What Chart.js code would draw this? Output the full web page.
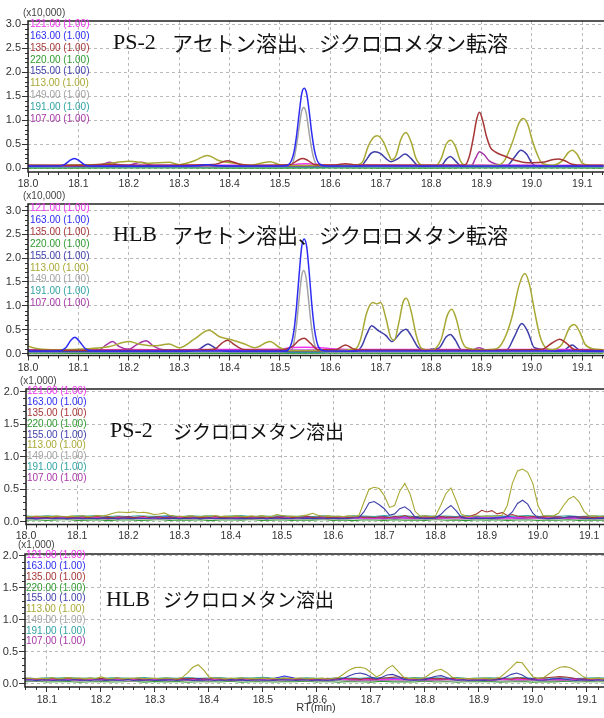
<!DOCTYPE html>
<html>
<head>
<meta charset="utf-8">
<script src="https://cdn.jsdelivr.net/npm/chart.js@4.4.1/dist/chart.umd.min.js"></script>
<style>
  html, body { margin: 0; padding: 0; background: #fff; }
  #wrap { position: relative; width: 604px; height: 718px; overflow: hidden; background: #fff; }
  #wrap canvas { position: absolute; left: 0; }
</style>
</head>
<body>
<div id="wrap">
  <canvas id="c1" width="604" height="192" style="top:0px"></canvas>
  <canvas id="c2" width="604" height="188" style="top:186px"></canvas>
  <canvas id="c3" width="604" height="174" style="top:370px"></canvas>
  <canvas id="c4" width="604" height="182" style="top:536px"></canvas>
</div>
<script>
// ---------- labels ----------
const ions = ['121.00', '163.00', '135.00', '220.00', '155.00', '113.00', '149.00', '191.00', '107.00'];
const ionWeight = '(1.00)';
const xTicks = [18.0, 18.1, 18.2, 18.3, 18.4, 18.5, 18.6, 18.7, 18.8, 18.9, 19.0, 19.1];
const yTicksAcetone = [0, 0.5, 1.0, 1.5, 2.0, 2.5, 3.0];
const yTicksDcm = [0, 0.5, 1.0, 1.5, 2.0];
const titleLatin = ['PS-2', 'HLB', 'PS-2', 'HLB'];
const titleJa = ['アセトン溶出、ジクロロメタン転溶', 'アセトン溶出、ジクロロメタン転溶', 'ジクロロメタン溶出', 'ジクロロメタン溶出'];
const factorLabels = ['(x10,000)', '(x10,000)', '(x1,000)', '(x1,000)'];
const axisTitle = 'RT(min)';

// ---------- panel 1 : PS-2, acetone elution (raw intensity, [RT, counts]) ----------
const p1_121 = [[18.00,550],[18.05,520],[18.10,560],[18.15,600],[18.20,540],[18.25,580],[18.30,530],[18.35,600],[18.40,570],[18.45,540],[18.50,600],[18.53,750],[18.55,900],[18.57,780],[18.60,620],[18.65,560],[18.70,600],[18.75,540],[18.80,590],[18.85,560],[18.90,620],[18.95,570],[19.00,600],[19.05,550],[19.10,580],[19.142,560]];
const p1_163 = [[18.00,420],[18.06,430],[18.072,700],[18.082,1500],[18.092,2000],[18.102,1500],[18.112,700],[18.125,430],[18.20,400],[18.30,430],[18.34,520],[18.355,700],[18.37,520],[18.40,420],[18.50,430],[18.513,500],[18.518,800],[18.523,1600],[18.528,3400],[18.533,6800],[18.538,11300],[18.543,15400],[18.548,16600],[18.553,15500],[18.558,11800],[18.563,7300],[18.568,3900],[18.573,1800],[18.578,900],[18.588,480],[18.60,420],[18.70,440],[18.80,410],[18.90,430],[19.00,420],[19.142,420]];
const p1_135 = [[18.00,600],[18.12,600],[18.15,800],[18.17,700],[18.20,600],[18.37,750],[18.396,1500],[18.42,800],[18.45,600],[18.52,700],[18.535,1600],[18.545,2000],[18.555,1600],[18.57,700],[18.61,650],[18.63,900],[18.65,650],[18.86,600],[18.868,700],[18.876,2500],[18.884,6500],[18.89,10000],[18.896,11600],[18.902,10000],[18.91,6500],[18.918,4200],[18.928,3300],[18.94,2700],[18.955,2100],[18.97,1500],[18.99,1100],[19.02,1200],[19.04,1700],[19.052,1900],[19.065,1500],[19.08,800],[19.10,600],[19.142,600]];
const p1_220 = [[18.00,20],[18.20,40],[18.40,20],[18.60,30],[18.80,20],[19.00,40],[19.142,20]];
const p1_155 = [[18.00,350],[18.30,350],[18.34,450],[18.356,650],[18.37,450],[18.40,350],[18.66,400],[18.67,1500],[18.68,3000],[18.688,3400],[18.70,3000],[18.71,2000],[18.72,1300],[18.735,2000],[18.748,2900],[18.76,2000],[18.772,600],[18.78,350],[18.82,500],[18.83,1800],[18.838,2400],[18.848,1500],[18.86,400],[18.95,500],[18.965,2200],[18.978,3700],[18.99,2800],[19.00,1000],[19.01,400],[19.142,350]];
const p1_113 = [[18.00,600],[18.05,550],[18.10,650],[18.15,800],[18.20,1400],[18.24,1000],[18.28,1200],[18.30,700],[18.33,1500],[18.356,2600],[18.38,1500],[18.41,1000],[18.44,600],[18.48,1300],[18.50,700],[18.53,500],[18.60,500],[18.65,600],[18.665,1500],[18.675,4500],[18.685,6300],[18.693,6700],[18.705,5500],[18.715,3000],[18.722,1700],[18.73,2500],[18.74,6000],[18.75,7400],[18.76,5500],[18.77,2000],[18.78,700],[18.81,500],[18.82,2000],[18.83,5000],[18.839,5800],[18.848,4500],[18.858,1500],[18.87,500],[18.93,600],[18.945,1500],[18.96,5000],[18.975,9500],[18.983,10300],[18.992,9000],[19.00,6000],[19.01,3000],[19.02,1000],[19.04,600],[19.06,1500],[19.072,3200],[19.08,3700],[19.09,2800],[19.10,1000],[19.12,500],[19.142,500]];
const p1_149 = [[18.00,300],[18.50,300],[18.523,600],[18.528,2000],[18.533,4800],[18.538,8500],[18.543,11800],[18.547,12600],[18.552,11500],[18.557,8000],[18.562,4500],[18.567,2000],[18.572,800],[18.58,400],[18.60,300],[19.142,300]];
const p1_191 = [[18.00,180],[18.30,220],[18.60,190],[18.90,210],[19.142,200]];
const p1_107 = [[18.00,450],[18.14,450],[18.152,900],[18.162,1200],[18.175,800],[18.20,600],[18.215,1000],[18.225,1200],[18.24,700],[18.26,450],[18.88,500],[18.888,2000],[18.896,3400],[18.905,2800],[18.915,1500],[18.93,800],[18.95,500],[19.142,450]];

// ---------- panel 2 : HLB, acetone elution ----------
const p2_121 = [[18.00,800],[18.10,760],[18.20,820],[18.30,780],[18.40,850],[18.50,900],[18.52,1200],[18.55,1300],[18.58,1200],[18.62,900],[18.70,820],[18.80,860],[18.90,800],[19.00,840],[19.142,800]];
const p2_163 = [[18.00,500],[18.06,520],[18.075,1200],[18.085,2800],[18.093,3400],[18.103,2400],[18.115,900],[18.13,520],[18.30,500],[18.50,520],[18.513,600],[18.518,1000],[18.523,2200],[18.528,5000],[18.533,10000],[18.538,16500],[18.543,22300],[18.548,24000],[18.553,22400],[18.558,17000],[18.563,10500],[18.568,5500],[18.573,2500],[18.578,1100],[18.588,560],[18.60,500],[18.80,520],[19.00,500],[19.142,500]];
const p2_135 = [[18.00,700],[18.30,700],[18.37,900],[18.385,2200],[18.396,2800],[18.41,1800],[18.43,800],[18.50,700],[18.525,1500],[18.538,2800],[18.548,3200],[18.56,2200],[18.575,800],[18.61,800],[18.63,1800],[18.65,800],[18.70,700],[18.90,700],[19.02,900],[19.04,2200],[19.055,3000],[19.07,2000],[19.085,800],[19.142,700]];
const p2_220 = [[18.00,80],[18.30,60],[18.60,90],[18.90,60],[19.142,80]];
const p2_155 = [[18.00,400],[18.30,420],[18.34,900],[18.357,2000],[18.375,900],[18.41,420],[18.65,450],[18.662,1500],[18.672,4000],[18.682,5800],[18.695,4800],[18.71,3800],[18.722,2500],[18.74,4500],[18.75,5100],[18.76,3800],[18.775,1200],[18.79,600],[18.80,900],[18.815,1100],[18.83,3500],[18.838,4000],[18.848,2800],[18.86,800],[18.95,800],[18.965,3500],[18.98,6300],[18.992,4500],[19.005,1200],[19.06,500],[19.08,1800],[19.09,1000],[19.10,450],[19.142,420]];
const p2_113 = [[18.00,1500],[18.02,1000],[18.06,800],[18.12,1000],[18.16,1400],[18.20,2500],[18.22,2000],[18.25,1600],[18.28,2000],[18.30,1200],[18.33,3000],[18.359,4900],[18.38,3500],[18.40,3000],[18.43,2000],[18.45,1200],[18.48,2500],[18.50,1200],[18.52,600],[18.60,600],[18.65,1000],[18.66,3000],[18.672,8500],[18.684,10700],[18.692,10400],[18.70,10700],[18.71,7500],[18.72,3300],[18.727,2800],[18.735,6000],[18.745,11000],[18.751,11600],[18.76,9000],[18.77,4000],[18.78,1200],[18.80,700],[18.82,3000],[18.832,8000],[18.841,9300],[18.85,7200],[18.86,3000],[18.87,1200],[18.90,800],[18.93,1000],[18.945,3000],[18.96,7500],[18.975,14500],[18.986,16800],[18.995,14500],[19.005,9000],[19.015,4000],[19.025,1500],[19.04,800],[19.06,2000],[19.075,5500],[19.084,6100],[19.095,4500],[19.105,2000],[19.12,1000],[19.142,800]];
const p2_149 = [[18.00,300],[18.50,300],[18.523,700],[18.528,2500],[18.533,6200],[18.538,11500],[18.543,16200],[18.547,17400],[18.552,15800],[18.557,11000],[18.562,6000],[18.567,2600],[18.572,1000],[18.58,450],[18.60,300],[19.142,300]];
const p2_191 = [[18.00,250],[18.50,270],[19.142,250]];
const p2_107 = [[18.00,700],[18.14,700],[18.155,1800],[18.168,2500],[18.18,1500],[18.20,900],[18.215,1800],[18.234,2700],[18.25,1500],[18.27,800],[18.40,700],[18.88,750],[18.895,1200],[18.91,750],[19.142,700]];

// ---------- panels 3 & 4 : dichloromethane elution, sampled traces ----------
const fineTimes = [
  18.00,18.01,18.02,18.03,18.04,18.05,18.06,18.07,18.08,18.09,
  18.10,18.11,18.12,18.13,18.14,18.15,18.16,18.17,18.18,18.19,
  18.20,18.21,18.22,18.23,18.24,18.25,18.26,18.27,18.28,18.29,
  18.30,18.31,18.32,18.33,18.34,18.35,18.36,18.37,18.38,18.39,
  18.40,18.41,18.42,18.43,18.44,18.45,18.46,18.47,18.48,18.49,
  18.50,18.51,18.52,18.53,18.54,18.55,18.56,18.57,18.58,18.59,
  18.60,18.61,18.62,18.63,18.64,18.65,18.66,18.67,18.68,18.69,
  18.70,18.71,18.72,18.73,18.74,18.75,18.76,18.77,18.78,18.79,
  18.80,18.81,18.82,18.83,18.84,18.85,18.86,18.87,18.88,18.89,
  18.90,18.91,18.92,18.93,18.94,18.95,18.96,18.97,18.98,18.99,
  19.00,19.01,19.02,19.03,19.04,19.05,19.06,19.07,19.08,19.09,
  19.10,19.11,19.12,19.13,19.14];
const coarseTimes = [
  18.00,18.02,18.04,18.06,18.08,18.10,18.12,18.14,18.16,18.18,
  18.20,18.22,18.24,18.26,18.28,18.30,18.32,18.34,18.36,18.38,
  18.40,18.42,18.44,18.46,18.48,18.50,18.52,18.54,18.56,18.58,
  18.60,18.62,18.64,18.66,18.68,18.70,18.72,18.74,18.76,18.78,
  18.80,18.82,18.84,18.86,18.88,18.90,18.92,18.94,18.96,18.98,
  19.00,19.02,19.04,19.06,19.08,19.10,19.12,19.14];

// panel 3 : PS-2
const p3_121 = [58,64,55,61,66,57,60,63,54,62, 59,65,56,61,58,63,57,60,66,55, 62,59,64,57,61,56,63,60,58,65, 57,62,59,61,55,64,58,62,60,57, 63,56,61,65,58,60,54,62,59,64, 57,61,60,56,63,58,62,59];
const p3_163 = [70,58,72,63,55,68,74,60,66,57, 71,62,54,69,75,61,58,70,64,73, 59,67,72,56,63,76,60,68,55,71, 64,58,73,66,60,74,57,69,62,55, 72,63,68,58,75,61,66,70,59,64, 73,57,68,62,70,60,66,63];
const p3_220 = [22,30,18,27,33,20,25,29,16,26, 31,21,24,34,19,28,23,30,17,26, 29,22,33,18,25,31,20,27,24,35, 21,28,16,30,26,19,32,23,27,20, 34,22,28,17,29,25,31,19,26,30, 18,27,23,32,20,28,24,26];
const p3_149 = [42,36,45,38,33,44,40,47,35,41, 37,46,39,34,43,48,36,41,45,38, 33,44,40,37,46,35,42,39,47,36, 41,34,45,38,43,36,48,40,35,44, 39,46,37,42,34,45,40,36,43,38, 47,35,41,44,37,42,39,40];
const p3_191 = [88,80,92,84,78,90,86,95,81,87, 79,91,85,82,94,77,89,83,92,80, 86,93,78,88,84,96,81,87,79,90, 83,77,91,86,80,94,85,89,78,92, 84,88,81,95,79,87,90,82,86,93, 80,89,84,91,78,86,88,83];
const p3_107 = [52,58,49,56,61,50,55,59,47,57, 60,51,55,63,48,57,53,59,50,56, 54,61,47,58,52,62,49,56,60,51, 57,50,63,53,58,48,60,55,52,59, 49,56,61,51,58,54,47,60,55,53, 62,50,57,54,59,49,56,53];
const p3_135 = [72,66,78,69,63,75,71,80,65,73, 68,76,62,74,79,67,71,64,77,70, 75,63,72,81,66,70,77,61,73,68, 79,65,71,76,62,74,69,80,64,72, 67,77,70,63,78,72,66,75,61,74, 71,79,64,73,68,82,66,70,76,63, 74,69,78,65,72,80,67,73,62,76, 70,64,79,72,95,68,74,66,77,71, 65,78,70,73,64,80,72,90,120,175, 150,170,120,140,95,110,85,78,72,80, 68,75,82,70,77,64,73,79,66,74, 71,65,78,69,73];
const p3_113 = [82,76,88,79,85,74,90,81,77,86, 80,92,78,84,95,88,105,130,150,145, 140,152,138,146,132,110,118,135,100,88, 84,79,91,83,77,88,82,95,80,86, 78,90,84,76,89,81,93,79,85,110, 95,82,88,79,91,105,130,98,84,90, 81,87,78,92,84,90,300,500,530,510, 400,220,250,470,590,430,160,85,92,80, 90,250,430,520,330,120,85,79,91,83, 88,80,92,100,250,590,780,810,760,590, 250,95,84,90,130,250,350,390,310,160, 85,91,80,88,83];
const p3_155 = [48,55,44,52,58,46,51,56,43,53, 57,45,50,54,47,59,49,52,44,56, 51,46,58,49,53,60,45,52,48,55, 47,54,50,57,44,52,59,46,53,49, 56,45,51,48,58,50,54,43,52,57, 49,53,46,60,51,55,47,52,58,45, 54,48,53,50,57,62,150,290,310,260, 200,100,120,200,230,170,70,55,48,52, 56,110,190,250,170,70,53,47,55,50, 52,48,57,60,80,150,280,330,270,130, 60,52,47,55,50,62,75,80,58,49, 53,46,55,50,52];

// panel 4 : HLB
const p4_121 = [68,74,65,71,76,67,70,73,64,72, 69,75,66,71,68,73,67,70,76,65, 72,69,74,67,71,66,73,70,68,75, 67,72,69,71,65,74,68,72,70,67, 73,66,71,75,68,70,64,72,69,74, 67,71,70,66,73,68,72,69];
const p4_163 = [80,68,82,73,65,78,84,70,76,67, 81,72,64,79,85,71,68,80,74,83, 69,77,82,66,73,86,85,125,90,81, 74,68,83,76,70,84,67,79,72,65, 82,73,78,68,85,71,76,80,69,74, 83,67,78,72,80,70,76,73];
const p4_220 = [32,40,28,37,43,30,35,39,26,36, 41,31,34,44,29,38,33,40,27,36, 39,32,43,28,35,41,30,37,34,45, 31,38,26,40,36,29,42,33,37,30, 44,32,38,27,39,35,41,29,36,40, 28,37,33,42,30,38,34,36];
const p4_149 = [52,46,55,48,43,54,50,57,45,51, 47,56,49,44,53,58,46,51,55,48, 43,54,50,47,56,45,52,49,57,46, 51,44,55,48,53,46,58,50,45,54, 49,56,47,52,44,55,50,46,53,48, 57,45,51,54,47,52,49,50];
const p4_191 = [95,87,99,91,85,97,93,102,88,94, 86,98,92,89,101,84,96,90,99,87, 93,100,85,95,91,103,88,94,86,97, 90,84,98,93,87,101,92,96,85,99, 91,95,88,102,86,94,97,89,93,100, 87,96,91,98,85,93,95,90];
const p4_107 = [62,68,59,66,71,60,65,69,57,67, 70,61,65,73,58,67,63,69,60,66, 64,71,57,68,62,72,59,66,70,61, 67,60,73,63,68,58,70,65,62,69, 59,66,71,61,68,64,57,70,65,63, 72,60,67,64,69,59,66,63];
const p4_135 = [82,76,88,79,73,85,81,90,75,83, 78,86,72,84,89,77,81,74,87,80, 85,73,82,91,76,80,87,71,83,78, 89,75,81,86,72,84,79,90,74,82, 77,87,80,73,88,82,76,85,71,84, 81,89,74,83,78,92,76,80,86,73, 84,79,88,75,82,90,77,83,72,86, 80,74,89,95,105,112,98,84,77,81, 75,88,80,83,74,90,82,77,85,79, 86,78,84,73,89,81,76,95,88,80, 78,85,92,100,108,115,110,96,82,77, 84,75,88,79,83];
const p4_113 = [86,80,92,83,89,78,94,85,81,90, 84,96,82,88,99,87,93,80,91,85, 110,88,84,93,79,90,86,95,82,89, 87,81,94,85,79,100,170,260,300,220, 110,86,93,80,90,84,97,82,88,83, 92,79,89,84,95,81,87,93,80,90, 85,91,78,89,100,160,220,255,260,240, 180,110,150,240,290,200,110,85,92,81, 100,160,210,230,180,110,85,90,79,88, 84,92,80,89,110,180,260,340,330,220, 110,88,100,160,220,260,270,250,200,130, 90,84,92,80,87];
const p4_155 = [58,65,54,62,68,56,61,66,53,63, 67,55,60,64,57,69,59,62,54,66, 61,56,68,59,63,70,55,62,58,65, 57,64,60,67,54,62,69,56,63,59, 66,55,61,58,68,60,64,53,62,67, 59,63,56,70,61,65,57,62,68,55, 64,58,63,60,67,90,130,160,170,150, 110,80,105,140,150,120,75,62,58,64, 66,95,120,130,100,70,59,65,57,63, 60,56,67,62,75,110,150,170,140,90, 66,58,63,70,80,85,75,62,57,64, 61,55,66,59,62];

// ---------- styles ----------
const ionColors = {
  '121.00': '#f035f0',
  '163.00': '#2c2cf4',
  '135.00': '#a63636',
  '220.00': '#2f9a2f',
  '155.00': '#3e3eaa',
  '113.00': '#a8a834',
  '149.00': '#a3a3a3',
  '191.00': '#32a3a3',
  '107.00': '#a636a6'
};
const gridColor = '#b9b9b9';
const axisColor = '#222';
const tickTextColor = '#333';

const fromPairs = (pairs, f) => pairs.map(([t, v]) => ({ x: t, y: v / f }));
const fromGrid = (times, vals, f) => vals.map((v, i) => ({ x: times[i], y: v / f })).filter(p => p.x !== undefined);

// series listed top-most first (Chart.js paints dataset 0 last)
const panels = [
  {
    id: 'c1', padTop: 21, xAxisH: 20, yAxisW: 28, xLabelPad: 1,
    xMin: 18.0, xMax: 19.143, yMin: -0.083, yMax: 3.0625, yTicks: yTicksAcetone,
    smooth: true, lineWidth: 1.5,
    series: [['163.00', fromPairs(p1_163, 1e4)], ['135.00', fromPairs(p1_135, 1e4)], ['113.00', fromPairs(p1_113, 1e4)],
             ['107.00', fromPairs(p1_107, 1e4)], ['121.00', fromPairs(p1_121, 1e4)], ['155.00', fromPairs(p1_155, 1e4)],
             ['149.00', fromPairs(p1_149, 1e4)], ['191.00', fromPairs(p1_191, 1e4)], ['220.00', fromPairs(p1_220, 1e4)]],
    factorPos: [23, 13], legend: [30, 24.3, 11.85],
    title: { latinX: 113, jaX: 172, y: 43, latinSize: 22, jaSize: 21 }
  },
  {
    id: 'c2', padTop: 18, xAxisH: 18.5, yAxisW: 28, xLabelPad: 1,
    xMin: 18.0, xMax: 19.143, yMin: -0.042, yMax: 3.136, yTicks: yTicksAcetone,
    smooth: true, lineWidth: 1.5,
    series: [['163.00', fromPairs(p2_163, 1e4)], ['135.00', fromPairs(p2_135, 1e4)], ['113.00', fromPairs(p2_113, 1e4)],
             ['107.00', fromPairs(p2_107, 1e4)], ['121.00', fromPairs(p2_121, 1e4)], ['155.00', fromPairs(p2_155, 1e4)],
             ['149.00', fromPairs(p2_149, 1e4)], ['191.00', fromPairs(p2_191, 1e4)], ['220.00', fromPairs(p2_220, 1e4)]],
    factorPos: [23, 10], legend: [30, 22.3, 11.9],
    title: { latinX: 113, jaX: 172, y: 49, latinSize: 22, jaSize: 21 }
  },
  {
    id: 'c3', padTop: 19, xAxisH: 19.5, yAxisW: 26, xLabelPad: 0,
    xMin: 18.0, xMax: 19.129, yMin: -0.043, yMax: 2.042, yTicks: yTicksDcm,
    smooth: false, lineWidth: 1.1,
    series: [['113.00', fromGrid(fineTimes, p3_113, 1e3)], ['155.00', fromGrid(fineTimes, p3_155, 1e3)], ['135.00', fromGrid(fineTimes, p3_135, 1e3)],
             ['121.00', fromGrid(coarseTimes, p3_121, 1e3)], ['163.00', fromGrid(coarseTimes, p3_163, 1e3)], ['107.00', fromGrid(coarseTimes, p3_107, 1e3)],
             ['191.00', fromGrid(coarseTimes, p3_191, 1e3)], ['149.00', fromGrid(coarseTimes, p3_149, 1e3)], ['220.00', fromGrid(coarseTimes, p3_220, 1e3)]],
    factorPos: [20, 11.7], legend: [27, 21.7, 10.8],
    title: { latinX: 110, jaX: 173, y: 61.5, latinSize: 22, jaSize: 19 }
  },
  {
    id: 'c4', padTop: 18, xAxisH: 31, yAxisW: 25, xLabelPad: 2,
    xMin: 18.0593, xMax: 19.1315, yMin: -0.047, yMax: 2.026, yTicks: yTicksDcm,
    smooth: false, lineWidth: 1.1,
    series: [['113.00', fromGrid(fineTimes, p4_113, 1e3)], ['155.00', fromGrid(fineTimes, p4_155, 1e3)], ['135.00', fromGrid(fineTimes, p4_135, 1e3)],
             ['121.00', fromGrid(coarseTimes, p4_121, 1e3)], ['163.00', fromGrid(coarseTimes, p4_163, 1e3)], ['107.00', fromGrid(coarseTimes, p4_107, 1e3)],
             ['191.00', fromGrid(coarseTimes, p4_191, 1e3)], ['149.00', fromGrid(coarseTimes, p4_149, 1e3)], ['220.00', fromGrid(coarseTimes, p4_220, 1e3)]],
    factorPos: [18, 9], legend: [26, 19.7, 10.75],
    title: { latinX: 106, jaX: 163, y: 64, latinSize: 22, jaSize: 19 },
    axisTitlePos: [316, 172]
  }
];

// frame, minor ticks, ion list, sample title, intensity factor
function decorations(cfg, idx) {
  return {
    id: 'decor' + idx,
    afterDraw(chart) {
      const ctx = chart.ctx;
      const { left, right, top, bottom } = chart.chartArea;
      const xs = chart.scales.x, ys = chart.scales.y;
      ctx.save();
      ctx.strokeStyle = '#333';
      ctx.lineWidth = 1;
      ctx.beginPath();
      for (let k = Math.ceil(xs.min * 50 - 1e-6); k <= Math.floor(xs.max * 50 + 1e-6); k++) {
        if (k % 5 === 0) continue;
        const px = Math.round(xs.getPixelForValue(k / 50)) + 0.5;
        ctx.moveTo(px, bottom); ctx.lineTo(px, bottom + 3);
      }
      for (let k = Math.ceil(ys.min * 10 - 1e-6); k <= Math.floor(ys.max * 10 + 1e-6); k++) {
        if (k % 5 === 0) continue;
        const py = Math.round(ys.getPixelForValue(k / 10)) + 0.5;
        ctx.moveTo(left - 3, py); ctx.lineTo(left, py);
      }
      ctx.stroke();

      ctx.strokeStyle = axisColor;
      ctx.lineWidth = 1.5;
      ctx.strokeRect(left, top, right - left + 10, bottom - top);

      ctx.textAlign = 'left';
      ctx.textBaseline = 'middle';
      ctx.font = '10px "Liberation Sans", Arial, sans-serif';
      const [lx, ly, ls] = cfg.legend;
      ions.forEach((ion, i) => {
        ctx.fillStyle = ionColors[ion];
        ctx.fillText(ion + ' ' + ionWeight, lx, ly + i * ls);
      });

      ctx.fillStyle = '#444';
      ctx.font = '10px "Liberation Sans", Arial, sans-serif';
      ctx.fillText(factorLabels[idx], cfg.factorPos[0], cfg.factorPos[1]);

      const t = cfg.title;
      ctx.fillStyle = '#111';
      ctx.font = t.latinSize + 'px "Liberation Serif", "DejaVu Serif", serif';
      ctx.fillText(titleLatin[idx], t.latinX, t.y);
      ctx.font = t.jaSize + 'px "Noto Sans CJK JP", sans-serif';
      ctx.fillText(titleJa[idx], t.jaX, t.y);

      if (cfg.axisTitlePos) {
        ctx.textAlign = 'center';
        ctx.fillStyle = tickTextColor;
        ctx.font = '11px "Liberation Sans", Arial, sans-serif';
        ctx.fillText(axisTitle, cfg.axisTitlePos[0], cfg.axisTitlePos[1]);
      }
      ctx.restore();
    }
  };
}

panels.forEach((cfg, idx) => {
  const datasets = cfg.series.map(([ion, data]) => ({
    label: ion,
    data,
    borderColor: ionColors[ion],
    borderWidth: cfg.lineWidth,
    pointRadius: 0,
    fill: false,
    tension: cfg.smooth ? 0.4 : 0,
    cubicInterpolationMode: cfg.smooth ? 'monotone' : 'default'
  }));
  new Chart(document.getElementById(cfg.id), {
    type: 'line',
    data: { datasets },
    options: {
      responsive: false,
      animation: false,
      devicePixelRatio: 1,
      parsing: false,
      events: [],
      layout: { autoPadding: false, padding: { top: cfg.padTop, left: 0, right: 0, bottom: 0 } },
      plugins: { legend: { display: false }, tooltip: { enabled: false }, title: { display: false } },
      scales: {
        x: {
          type: 'linear', min: cfg.xMin, max: cfg.xMax,
          afterBuildTicks: sc => { sc.ticks = xTicks.filter(v => v >= cfg.xMin - 1e-9 && v <= cfg.xMax + 1e-9).map(v => ({ value: v })); },
          afterFit: sc => { sc.height = cfg.xAxisH; },
          ticks: { callback: v => Number(v).toFixed(1), autoSkip: false, maxRotation: 0, padding: cfg.xLabelPad,
                   color: tickTextColor, font: { family: '"Liberation Sans", Arial, sans-serif', size: 10.5 } },
          grid: { color: gridColor, lineWidth: 1, drawTicks: true, tickLength: 5, tickColor: '#333', tickWidth: 1 },
          border: { display: false, dash: [3, 3] }
        },
        y: {
          type: 'linear', min: cfg.yMin, max: cfg.yMax,
          afterBuildTicks: sc => { sc.ticks = cfg.yTicks.map(v => ({ value: v })); },
          afterFit: sc => { sc.width = cfg.yAxisW; },
          ticks: { callback: v => Number(v).toFixed(1), padding: 1,
                   color: tickTextColor, font: { family: '"Liberation Sans", Arial, sans-serif', size: 11 } },
          grid: { color: gridColor, lineWidth: 1, drawTicks: true, tickLength: 6, tickColor: '#333', tickWidth: 1 },
          border: { display: false, dash: [3, 3] }
        }
      }
    },
    plugins: [decorations(cfg, idx)]
  });
});
</script>
</body>
</html>
